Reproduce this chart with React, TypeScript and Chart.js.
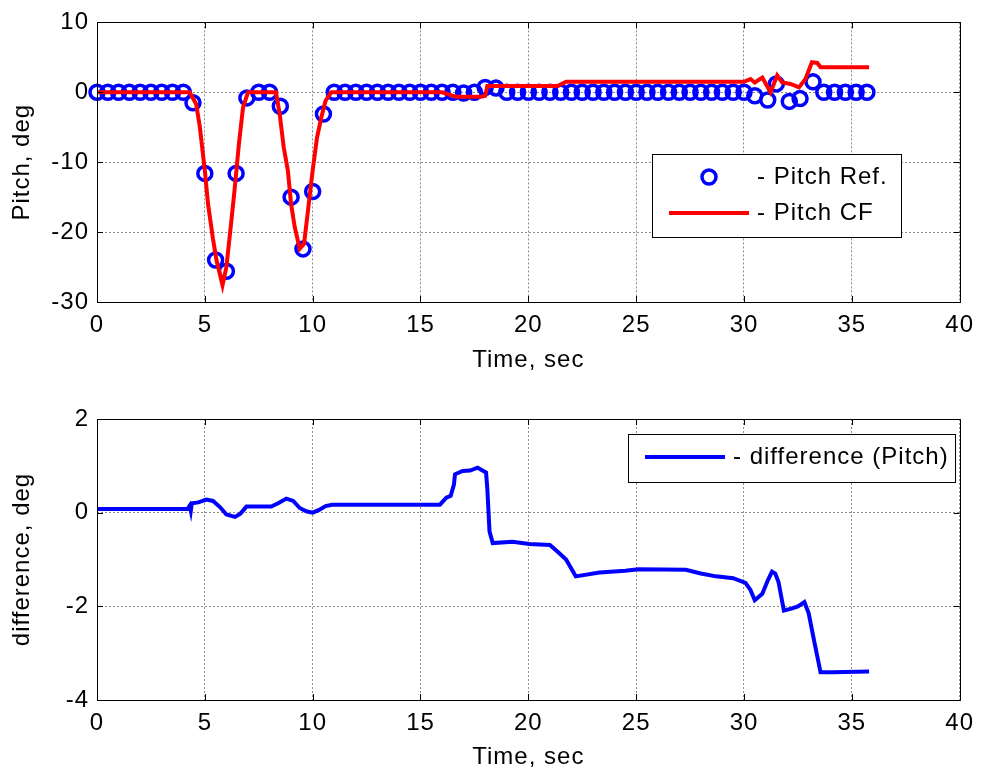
import React, { useEffect, useRef } from 'react';
import { Chart, registerables } from 'chart.js';

Chart.register(...registerables);

const FONT = '"Liberation Sans", Arial, Helvetica, sans-serif';

// ---- Top plot: Pitch reference (circles) ----
const refTime = [
  0, 0.5, 1, 1.5, 2, 2.5, 3, 3.5, 4, 4.45, 5, 5.5, 6, 6.45, 6.95, 7.5, 8, 8.5, 9, 9.55,
  10, 10.5, 11, 11.5, 12, 12.5, 13, 13.5, 14, 14.5, 15, 15.5, 16, 16.5, 17, 17.5, 18, 18.5,
  19, 19.5, 20, 20.5, 21, 21.5, 22, 22.5, 23, 23.5, 24, 24.5, 25, 25.5, 26, 26.5, 27, 27.5,
  28, 28.5, 29, 29.5, 30, 30.5, 31.1, 31.5, 32.1, 32.6, 33.2, 33.7, 34.2, 34.7, 35.2, 35.7,
];
const refPitch = [
  0, 0, 0, 0, 0, 0, 0, 0, 0, -1.5, -11.6, -24, -25.6, -11.6, -0.8, 0, 0, -2, -15, -22.4,
  -14.2, -3.1, 0, 0, 0, 0, 0, 0, 0, 0, 0, 0, 0, 0, -0.1, 0, 0.7, 0.6,
  0, 0, 0, 0, 0, 0, 0, 0, 0, 0, 0, 0, 0, 0, 0, 0, 0, 0,
  0, 0, 0, 0, 0, -0.5, -1.1, 1.2, -1.3, -0.9, 1.5, 0, 0, 0, 0, 0,
];

// ---- Top plot: Pitch CF (red line) ----
const cfTime = [
  0, 4.3, 4.6, 4.77, 5.0, 5.15, 5.38, 5.54, 5.82, 6.0, 6.23, 6.39, 6.58, 6.77, 7.0,
  8.3, 8.47, 8.66, 8.85, 9.0, 9.17, 9.4, 9.6, 9.78, 10.0, 10.2, 10.4, 10.6, 10.86,
  16.0, 16.65, 17.8, 18.0, 18.1, 21.35, 21.75, 30.0, 30.3, 30.5, 30.85, 31.23, 31.54,
  31.77, 32.16, 32.55, 32.85, 33.15, 33.4, 33.55, 35.8,
];
const cfPitch = [
  0, 0, -1.7, -5, -11.2, -16, -21, -24, -27.6, -25, -18.4, -13.6, -7.4, -2.2, 0,
  0, -3.1, -7.9, -11.2, -16, -19.3, -22.4, -21.7, -17, -11.2, -6.5, -3.6, -1.2, 0,
  0, -0.65, -0.65, -0.5, 0.9, 0.9, 1.5, 1.5, 1.9, 1.4, 2.1, 0, 2.4,
  1.4, 1.2, 0.7, 1.9, 4.3, 4.2, 3.6, 3.6,
];

// ---- Bottom plot: difference ----
const diffTime = [
  0, 4.2, 4.3, 4.35, 4.4, 4.7, 5.07, 5.38, 5.7, 6.0, 6.4, 6.65, 6.93, 8.08, 8.4, 8.78,
  9.1, 9.4, 9.7, 10.0, 10.3, 10.6, 10.9, 15.9, 16.2, 16.4, 16.55, 16.6, 16.95, 17.3,
  17.65, 18.04, 18.1, 18.2, 18.35, 19.27, 20.05, 21.0, 21.4, 21.75, 22.2, 23.3, 24.5,
  25.1, 27.3, 28.0, 28.7, 29.5, 30.07, 30.3, 30.5, 30.85, 31.1, 31.3, 31.45, 31.6,
  31.85, 32.2, 32.5, 32.8, 33.0, 33.25, 33.55, 34.1, 35.8,
];
const diffPitch = [
  0.08, 0.08, 0.15, 0.04, 0.2, 0.22, 0.28, 0.25, 0.12, -0.04, -0.09, -0.02, 0.13, 0.13, 0.2, 0.3,
  0.25, 0.1, 0.03, 0.0, 0.06, 0.14, 0.17, 0.17, 0.32, 0.36, 0.6, 0.82, 0.89, 0.9,
  0.96, 0.86, 0.5, -0.4, -0.65, -0.62, -0.67, -0.69, -0.85, -1.0, -1.36, -1.28, -1.24,
  -1.21, -1.22, -1.3, -1.36, -1.4, -1.5, -1.65, -1.87, -1.73, -1.45, -1.26, -1.3, -1.48,
  -2.09, -2.05, -2.0, -1.91, -2.15, -2.73, -3.41, -3.41, -3.39,
];

const xRange = { min: 0, max: 40, step: 5 };
const topY = { min: -30, max: 10, step: 10 };
const bottomY = { min: -4, max: 2, step: 2 };

const toPoints = (xs: number[], ys: number[]) => xs.map((x, i) => ({ x, y: ys[i] }));

const spacingPlugin = {
  id: 'letterSpacing',
  beforeUpdate(chart: any) { (chart.ctx as any).letterSpacing = '1px'; },
  beforeDraw(chart: any) { (chart.ctx as any).letterSpacing = '1px'; },
};

const framePlugin = {
  id: 'matlabFrame',
  afterDatasetsDraw(chart: any) {
    const { ctx, chartArea: a, scales } = chart;
    const L = 6;
    ctx.save();
    ctx.setLineDash([]);
    ctx.strokeStyle = '#000';
    ctx.lineWidth = 1;
    ctx.beginPath();
    scales.x.ticks.forEach((t: any) => {
      const px = Math.round(scales.x.getPixelForValue(t.value)) + 0.5;
      ctx.moveTo(px, a.bottom);
      ctx.lineTo(px, a.bottom - L);
      ctx.moveTo(px, a.top);
      ctx.lineTo(px, a.top + L);
    });
    scales.y.ticks.forEach((t: any) => {
      const py = Math.round(scales.y.getPixelForValue(t.value)) + 0.5;
      ctx.moveTo(a.left, py);
      ctx.lineTo(a.left + L, py);
      ctx.moveTo(a.right, py);
      ctx.lineTo(a.right - L, py);
    });
    ctx.stroke();
    ctx.strokeRect(Math.round(a.left) + 0.5, Math.round(a.top) + 0.5, Math.round(a.right - a.left), Math.round(a.bottom - a.top));
    ctx.restore();
  },
};

type LegendItem = { label: string; kind: 'circle' | 'line'; color: string };

function legendPlugin(box: { x: number; y: number; w: number; h: number }, items: LegendItem[], rowYs: number[], markX: [number, number], textX: number) {
  return {
    id: 'customLegend',
    afterDraw(chart: any) {
      const ctx = chart.ctx;
      ctx.save();
      ctx.setLineDash([]);
      ctx.fillStyle = '#fff';
      ctx.fillRect(box.x, box.y, box.w, box.h);
      ctx.strokeStyle = '#000';
      ctx.lineWidth = 1;
      ctx.strokeRect(box.x + 0.5, box.y + 0.5, box.w, box.h);
      items.forEach((it, i) => {
        const y = rowYs[i];
        if (it.kind === 'circle') {
          ctx.beginPath();
          ctx.strokeStyle = it.color;
          ctx.lineWidth = 3.5;
          ctx.arc((markX[0] + markX[1]) / 2, y, 7, 0, Math.PI * 2);
          ctx.stroke();
        } else {
          ctx.beginPath();
          ctx.strokeStyle = it.color;
          ctx.lineWidth = 4;
          ctx.moveTo(markX[0], y);
          ctx.lineTo(markX[1], y);
          ctx.stroke();
        }
        ctx.fillStyle = '#000';
        ctx.font = `24px ${FONT}`;
        ctx.textBaseline = 'middle';
        ctx.textAlign = 'left';
        ctx.fillText(it.label, textX, y);
      });
      ctx.restore();
    },
  };
}

function baseOptions(opts: {
  yMin: number; yMax: number; yStep: number; yTitle: string;
  padTop: number; xHeight: number; xTitlePad: number;
}) {
  const font = { family: FONT, size: 24 };
  return {
    responsive: false,
    animation: false as const,
    events: [] as any[],
    layout: { padding: { top: opts.padTop, right: 20, left: 0, bottom: 0 } },
    plugins: { legend: { display: false }, tooltip: { enabled: false } },
    scales: {
      x: {
        type: 'linear' as const,
        min: xRange.min,
        max: xRange.max,
        ticks: { stepSize: xRange.step, font, color: '#000', padding: 9, maxRotation: 0, autoSkip: false },
        grid: { color: '#8c8c8c', lineWidth: 1, drawTicks: false },
        border: { display: false, dash: [2, 2] },
        title: { display: true, text: 'Time, sec', font, color: '#000', padding: { top: 0, bottom: opts.xTitlePad } },
        afterFit(scale: any) { scale.height = opts.xHeight; },
      },
      y: {
        type: 'linear' as const,
        min: opts.yMin,
        max: opts.yMax,
        ticks: { stepSize: opts.yStep, font, color: '#000', padding: 8, autoSkip: false },
        grid: { color: '#8c8c8c', lineWidth: 1, drawTicks: false },
        border: { display: false, dash: [2, 2] },
        title: { display: true, text: opts.yTitle, font, color: '#000', padding: { top: 8, bottom: 0 } },
        afterFit(scale: any) { scale.width = 97; },
      },
    },
  };
}

export default function App() {
  const topRef = useRef<HTMLCanvasElement>(null);
  const botRef = useRef<HTMLCanvasElement>(null);

  useEffect(() => {
    document.body.style.margin = '0';
    const top = new Chart(topRef.current!, {
      type: 'line',
      data: {
        datasets: [
          {
            label: '- Pitch Ref.',
            data: toPoints(refTime, refPitch),
            showLine: false,
            borderColor: '#0000ff',
            backgroundColor: 'rgba(0,0,0,0)',
            pointBorderColor: '#0000ff',
            pointBackgroundColor: 'rgba(0,0,0,0)',
            pointRadius: 7,
            pointBorderWidth: 3.5,
            clip: false,
            order: 2,
          } as any,
          {
            label: '- Pitch CF',
            data: toPoints(cfTime, cfPitch),
            borderColor: '#ff0000',
            borderWidth: 4,
            pointRadius: 0,
            tension: 0,
            clip: false,
            order: 1,
          } as any,
        ],
      },
      options: baseOptions({ yMin: topY.min, yMax: topY.max, yStep: topY.step, yTitle: 'Pitch, deg', padTop: 21, xHeight: 84, xTitlePad: 11 }) as any,
      plugins: [
        spacingPlugin,
        framePlugin,
        legendPlugin(
          { x: 652, y: 154, w: 249, h: 83 },
          [
            { label: '- Pitch Ref.', kind: 'circle', color: '#0000ff' },
            { label: '- Pitch CF', kind: 'line', color: '#ff0000' },
          ],
          [177, 213],
          [669, 749],
          757,
        ),
      ],
    });

    const bot = new Chart(botRef.current!, {
      type: 'line',
      data: {
        datasets: [
          {
            label: '- difference (Pitch)',
            data: toPoints(diffTime, diffPitch),
            borderColor: '#0000ff',
            borderWidth: 4,
            pointRadius: 0,
            tension: 0,
            clip: false,
          } as any,
        ],
      },
      options: baseOptions({ yMin: bottomY.min, yMax: bottomY.max, yStep: bottomY.step, yTitle: 'difference, deg', padTop: 33, xHeight: 72, xTitlePad: 0 }) as any,
      plugins: [
        spacingPlugin,
        framePlugin,
        legendPlugin(
          { x: 628, y: 48, w: 327, h: 48 },
          [{ label: '- difference (Pitch)', kind: 'line', color: '#0000ff' }],
          [71],
          [645, 725],
          733,
        ),
      ],
    });

    return () => {
      top.destroy();
      bot.destroy();
    };
  }, []);

  return (
    <div style={{ position: 'relative', width: 983, height: 772, background: '#fff' }}>
      <canvas ref={topRef} width={983} height={386} style={{ position: 'absolute', left: 0, top: 0 }} />
      <canvas ref={botRef} width={983} height={386} style={{ position: 'absolute', left: 0, top: 386 }} />
    </div>
  );
}
